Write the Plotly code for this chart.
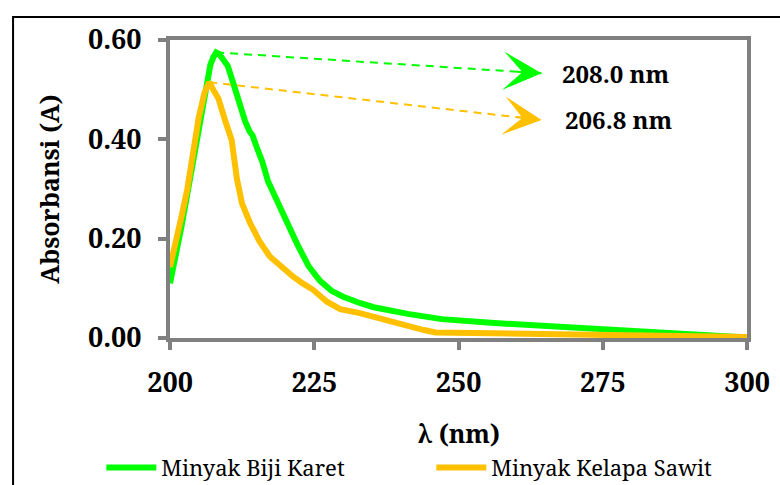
import plotly.graph_objects as go

# ---- data ----
wl_karet = [200, 201, 202, 203, 204, 205, 206, 206.5, 207, 207.5, 208, 208.5, 209, 210, 211, 212,
            213, 213.8, 214.3, 215, 216, 217, 218, 220, 222, 224, 226, 228, 230, 233, 235.3,
            241.2, 247.1, 255, 264.7, 272, 282.3, 288, 294.1, 300]
abs_karet = [0.11, 0.165, 0.225, 0.29, 0.355, 0.415, 0.47, 0.515, 0.55, 0.565, 0.575, 0.572, 0.565,
             0.548, 0.512, 0.472, 0.437, 0.416, 0.408, 0.385, 0.355, 0.315, 0.29, 0.235, 0.19,
             0.145, 0.115, 0.095, 0.083, 0.07, 0.062, 0.0485, 0.038, 0.031, 0.0245, 0.019,
             0.0145, 0.01, 0.005, 0.001]

wl_sawit = [200, 201, 202, 203, 204, 205, 206, 206.8, 207.5, 208.4, 209.5, 210.7, 211.6, 212.5,
            213.9, 215.5, 217.3, 219.5, 221.4, 223, 224.8, 227.2, 229.5, 232.9, 235.3, 238,
            241.2, 244, 246, 260, 280, 300]
abs_sawit = [0.143, 0.19, 0.245, 0.30, 0.37, 0.445, 0.495, 0.515, 0.50, 0.482, 0.44, 0.398, 0.32,
             0.27, 0.231, 0.195, 0.164, 0.14, 0.123, 0.11, 0.097, 0.073, 0.058, 0.05, 0.042,
             0.034, 0.025, 0.016, 0.011, 0.009, 0.006, 0.002]

series_names = ["Minyak Biji Karet", "Minyak Kelapa Sawit"]
peak_labels = ["208.0 nm", "206.8 nm"]
label_tips_x = [264.4, 264.4]        # where the dashed arrows end
label_tips_y = [0.533, 0.439]
label_text_x = [267.6, 268.1]

x_ticks = [200, 225, 250, 275, 300]
y_ticks = [0.0, 0.2, 0.4, 0.6]

GREEN = "#00FF00"
ORANGE = "#FFC000"
GRAY = "#808080"
SERIF = "Noto Serif"

fig = go.Figure()
fig.add_trace(go.Scatter(x=wl_karet, y=abs_karet, mode="lines", name=series_names[0],
                         line=dict(color=GREEN, width=6)))
fig.add_trace(go.Scatter(x=wl_sawit, y=abs_sawit, mode="lines", name=series_names[1],
                         line=dict(color=ORANGE, width=6)))

# dashed arrows from each peak to its label
for xs, ys, col, tx, ty, lx, lab in zip([wl_karet, wl_sawit], [abs_karet, abs_sawit], [GREEN, ORANGE],
                                        label_tips_x, label_tips_y, label_text_x, peak_labels):
    i = ys.index(max(ys))
    px, py = xs[i], ys[i]
    fig.add_trace(go.Scatter(x=[px, tx], y=[py, ty], mode="lines", showlegend=False,
                             hoverinfo="skip", line=dict(color=col, width=2, dash="8px,6px")))
    fx = tx - (tx - px) * 0.08
    fy = ty - (ty - py) * 0.08
    fig.add_annotation(x=tx, y=ty, ax=fx, ay=fy, axref="x", ayref="y", xref="x", yref="y",
                       showarrow=True, arrowhead=3, arrowsize=3.2, arrowwidth=2, arrowcolor=col,
                       text="")
    fig.add_annotation(x=lx, y=ty, xref="x", yref="y", text=lab, showarrow=False,
                       xanchor="left", yanchor="middle",
                       font=dict(family=SERIF, size=24, color="black", weight="bold"))

axis_common = dict(showline=True, linecolor=GRAY, linewidth=4, mirror=True, ticks="outside",
                   ticklen=8, tickwidth=4, tickcolor=GRAY, showgrid=False, zeroline=False,
                   automargin=False,
                   tickfont=dict(family=SERIF, size=27, color="black", weight="bold"))

fig.update_xaxes(range=[200, 300], tickvals=x_ticks, ticklabelstandoff=10,
                 title=dict(text="λ (nm)", standoff=27,
                            font=dict(family=SERIF, size=25, color="black", weight="bold")),
                 **axis_common)
fig.update_yaxes(range=[0, 0.6], tickvals=y_ticks, tickformat=".2f", ticklabelstandoff=11,
                 title=dict(text="Absorbansi (A)", standoff=22,
                            font=dict(family=SERIF, size=25, color="black", weight="bold")),
                 **axis_common)

# outer black frame of the original figure (runs off the right and bottom edges)
fig.add_shape(type="rect", xref="paper", yref="paper", x0=-0.272, y0=-0.7, x1=1.2, y1=1.077,
              line=dict(color="black", width=2), fillcolor="rgba(0,0,0,0)", layer="below")

fig.update_layout(
    width=780, height=485,
    margin=dict(l=170, r=33, t=40, b=147, autoexpand=False),
    paper_bgcolor="white", plot_bgcolor="white",
    showlegend=True,
    legend=dict(orientation="h", x=-0.119, y=-0.435, xanchor="left", yanchor="middle",
                entrywidth=265, entrywidthmode="pixels", itemwidth=50,
                font=dict(family=SERIF, size=22, color="black"), bgcolor="rgba(0,0,0,0)"),
)

fig.write_html("out.html")
